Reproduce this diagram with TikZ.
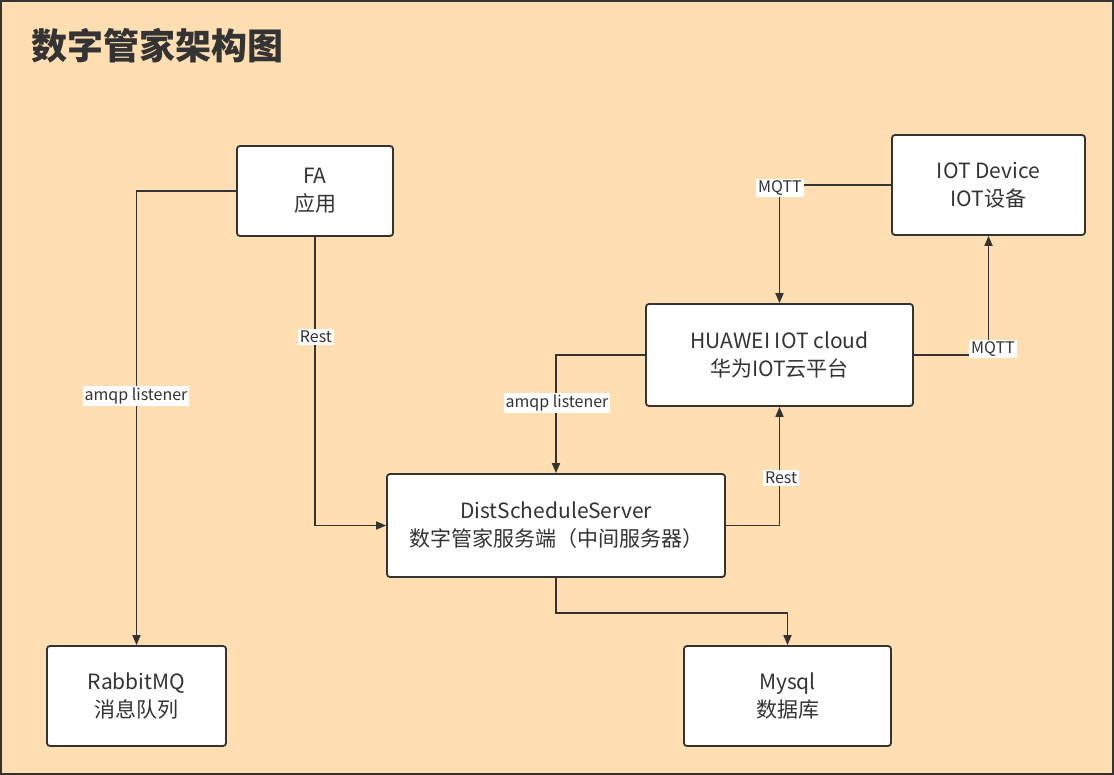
\documentclass[tikz,border=0pt]{standalone}
\usepackage{fontspec}
\setmainfont{Noto Sans CJK SC}
\usetikzlibrary{arrows.meta}
\definecolor{bgc}{HTML}{FFDFB1}
\definecolor{ink}{HTML}{333333}
\tikzset{
  box/.style={draw=ink, line width=1.8pt, fill=white, rounded corners=3pt, inner sep=0pt,
    align=center, text=ink, font=\fontsize{21}{28}\selectfont},
  conn/.style={draw=ink, line width=1.8pt, -{Triangle[length=10pt,width=8pt]}},
  lbl/.style={fill=white, inner sep=2pt, text=ink, font=\fontsize{16}{18}\selectfont}
}
\begin{document}
\begin{tikzpicture}[x=1pt,y=-1pt]
\useasboundingbox (0,0) rectangle (1114,775);
\draw[draw=ink, line width=1.5pt, fill=bgc] (1,1) rectangle (1113,774);
\node[anchor=west, text=ink, font=\fontsize{36}{42}\selectfont\bfseries] (title) at (28,46) {数字管家架构图};

\node[box, minimum width=156pt, minimum height=90pt] (fa) at (315,191) {FA\\应用};
\node[box, minimum width=193pt, minimum height=100pt] (iot) at (988.5,185) {IOT Device\\IOT设备};
\node[box, minimum width=267pt, minimum height=102pt] (hw) at (779.5,355) {HUAWEI IOT cloud\\华为IOT云平台};
\node[box, minimum width=338pt, minimum height=103pt] (dist) at (556,525.5) {DistScheduleServer\\数字管家服务端（中间服务器）};
\node[box, minimum width=179pt, minimum height=100pt] (rmq) at (136.5,696) {RabbitMQ\\消息队列};
\node[box, minimum width=207pt, minimum height=100pt] (db) at (787.5,696) {Mysql\\数据库};

\draw[conn] (fa.west) -| (rmq.north);
\draw[conn] (fa.south) |- (dist.west);
\draw[conn] (iot.west) -| (hw.north);
\draw[conn] (hw.east) -| (iot.south);
\draw[conn] (hw.west) -| (dist.north);
\draw[conn] (dist.east) -| (hw.south);
\draw[conn] (dist.south) -- ++(0,35) coordinate (c1) -| (db.north);

\node[lbl] (l1) at (136,396) {amqp listener};
\node[lbl] (l2) at (316,337) {Rest};
\node[lbl] (l3) at (780,188) {MQTT};
\node[lbl] (l4) at (993,349) {MQTT};
\node[lbl] (l5) at (557,403) {amqp listener};
\node[lbl] (l6) at (781,478) {Rest};
\end{tikzpicture}
\end{document}
